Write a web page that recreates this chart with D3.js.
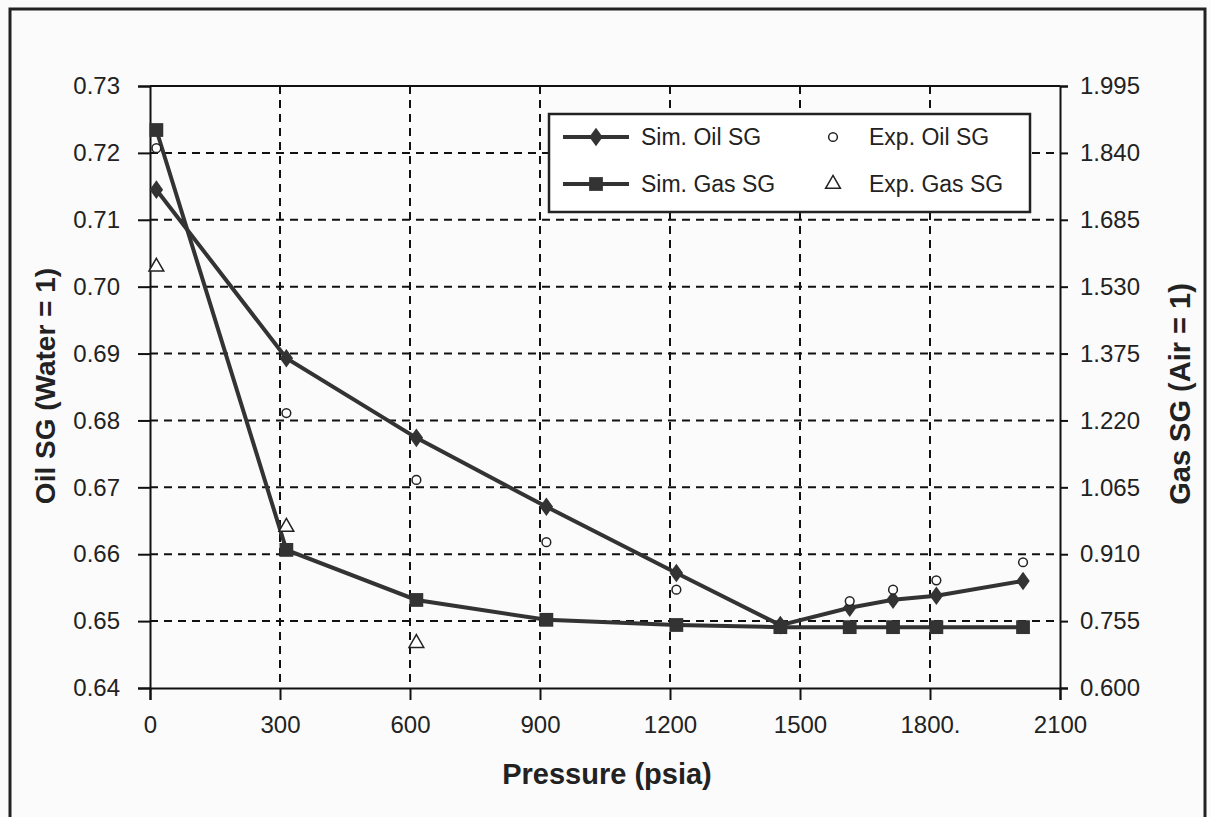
<!DOCTYPE html>
<html>
<head>
<meta charset="utf-8">
<script src="https://cdn.jsdelivr.net/npm/d3@7"></script>
<style>
  body { margin: 0; background: #fff; }
  svg text { font-family: "Liberation Sans", Arial, sans-serif; fill: #222; }
</style>
</head>
<body>
<div id="chart"></div>
<script>

// pressures (psia)
var simPressure = [14.7, 314.7, 614.7, 914.7, 1214.7, 1454.7, 1614.7, 1714.7, 1814.7, 2014.7];
var simOilSG    = [0.7145, 0.6893, 0.6774, 0.6671, 0.6572, 0.6494, 0.6520, 0.6532, 0.6538, 0.6560];
var simGasSG    = [1.893, 0.920, 0.804, 0.758, 0.746, 0.741, 0.741, 0.741, 0.741, 0.741];

var expOilPressure = [14.7, 314.7, 614.7, 914.7, 1214.7, 1614.7, 1714.7, 1814.7, 2014.7];
var expOilSG       = [0.7207, 0.6811, 0.6711, 0.6618, 0.6547, 0.6530, 0.6547, 0.6561, 0.6588];

var expGasPressure = [14.7, 314.7, 614.7];
var expGasSG       = [1.576, 0.973, 0.704];

var xTicks     = [0, 300, 600, 900, 1200, 1500, 1800, 2100];
var xTickText  = ['0', '300', '600', '900', '1200', '1500', '1800.', '2100'];
var oilTicks   = [0.64, 0.65, 0.66, 0.67, 0.68, 0.69, 0.70, 0.71, 0.72, 0.73];
var gasTicks   = [0.600, 0.755, 0.910, 1.065, 1.220, 1.375, 1.530, 1.685, 1.840, 1.995];

var legendItems = [
  { label: 'Sim. Oil SG',  kind: 'simOil' },
  { label: 'Sim. Gas SG',  kind: 'simGas' },
  { label: 'Exp. Oil SG',  kind: 'expOil' },
  { label: 'Exp. Gas SG',  kind: 'expGas' }
];

var W = 1211, H = 817;
var margin = {top: 86, right: 151, bottom: 129, left: 150},
    width = W - margin.left - margin.right,
    height = H - margin.top - margin.bottom;

var ink = '#333';

var svg = d3.select('#chart').append('svg')
    .attr('width', W).attr('height', H);

svg.append('rect').attr('width', W).attr('height', H).attr('fill', '#fbfbfb');

// outer frame of the scanned figure
svg.append('rect')
    .attr('x', 10).attr('y', 9).attr('width', 1195).attr('height', 830)
    .attr('fill', 'none').attr('stroke', '#222').attr('stroke-width', 3);

var g = svg.append('g').attr('transform', 'translate(' + margin.left + ',' + margin.top + ')');

var x = d3.scaleLinear().domain([0, 2100]).range([0, width]);
var yOil = d3.scaleLinear().domain([0.64, 0.73]).range([height, 0]);
var yGas = d3.scaleLinear().domain([0.600, 1.995]).range([height, 0]);

// grid
g.append('g').selectAll('line').data(xTicks.slice(1, -1)).enter().append('line')
    .attr('x1', function(d){ return x(d); }).attr('x2', function(d){ return x(d); })
    .attr('y1', 0).attr('y2', height)
    .attr('stroke', '#111').attr('stroke-width', 2).attr('stroke-dasharray', '8,6');

g.append('g').selectAll('line').data(oilTicks.slice(1, -1)).enter().append('line')
    .attr('x1', 0).attr('x2', width)
    .attr('y1', function(d){ return yOil(d); }).attr('y2', function(d){ return yOil(d); })
    .attr('stroke', '#111').attr('stroke-width', 2).attr('stroke-dasharray', '8,6');

// axes
var xAxis = d3.axisBottom(x).tickValues(xTicks).tickSize(12).tickPadding(16)
    .tickFormat(function(d, i){ return xTickText[i]; });
var leftAxis = d3.axisLeft(yOil).tickValues(oilTicks).tickSize(12).tickPadding(18)
    .tickFormat(d3.format('.2f'));
var rightAxis = d3.axisRight(yGas).tickValues(gasTicks).tickSize(8).tickPadding(12)
    .tickFormat(d3.format('.3f'));

var styleAxis = function(sel){
  sel.selectAll('path, line').attr('stroke', '#111').attr('stroke-width', 2);
  sel.selectAll('text').attr('font-size', 24).attr('fill', '#222');
};

g.append('g').attr('transform', 'translate(0,' + height + ')').call(xAxis).call(styleAxis);
g.append('g').call(leftAxis).call(styleAxis);
g.append('g').attr('transform', 'translate(' + width + ',0)').call(rightAxis).call(styleAxis);
g.append('line').attr('x1', 0).attr('x2', width).attr('y1', 0).attr('y2', 0)
    .attr('stroke', '#111').attr('stroke-width', 2);

// axis titles
svg.append('text').attr('x', 607).attr('y', 784).attr('text-anchor', 'middle')
    .attr('font-size', 29).attr('font-weight', 'bold').text('Pressure (psia)');
svg.append('text').attr('transform', 'translate(55,386) rotate(-90)').attr('text-anchor', 'middle')
    .attr('font-size', 28).attr('font-weight', 'bold').text('Oil SG (Water = 1)');
svg.append('text').attr('transform', 'translate(1190,394) rotate(-90)').attr('text-anchor', 'middle')
    .attr('font-size', 29).attr('font-weight', 'bold').text('Gas SG (Air = 1)');

// series
var oilData = simPressure.map(function(p, i){ return [p, simOilSG[i]]; });
var gasData = simPressure.map(function(p, i){ return [p, simGasSG[i]]; });

g.append('path').datum(gasData)
    .attr('fill', 'none').attr('stroke', ink).attr('stroke-width', 4)
    .attr('d', d3.line().x(function(d){ return x(d[0]); }).y(function(d){ return yGas(d[1]); }));
g.append('path').datum(oilData)
    .attr('fill', 'none').attr('stroke', ink).attr('stroke-width', 4)
    .attr('d', d3.line().x(function(d){ return x(d[0]); }).y(function(d){ return yOil(d[1]); }));

var diamond = d3.symbol().type(d3.symbolDiamond).size(100);
var square = d3.symbol().type(d3.symbolSquare).size(190);
var circle = d3.symbol().type(d3.symbolCircle).size(60);
var triangle = d3.symbol().type(d3.symbolTriangle).size(95);

g.selectAll('.simGas').data(gasData).enter().append('path').attr('class', 'simGas')
    .attr('transform', function(d){ return 'translate(' + x(d[0]) + ',' + yGas(d[1]) + ')'; })
    .attr('d', square).attr('fill', ink);
g.selectAll('.simOil').data(oilData).enter().append('path').attr('class', 'simOil')
    .attr('transform', function(d){ return 'translate(' + x(d[0]) + ',' + yOil(d[1]) + ') scale(1.25,1)'; })
    .attr('d', diamond).attr('fill', ink);

g.selectAll('.expOil').data(expOilPressure).enter().append('path').attr('class', 'expOil')
    .attr('transform', function(d, i){ return 'translate(' + x(d) + ',' + yOil(expOilSG[i]) + ')'; })
    .attr('d', circle).attr('fill', '#fff').attr('stroke', '#222').attr('stroke-width', 1.5);
g.selectAll('.expGas').data(expGasPressure).enter().append('path').attr('class', 'expGas')
    .attr('transform', function(d, i){ return 'translate(' + x(d) + ',' + yGas(expGasSG[i]) + ')'; })
    .attr('d', triangle).attr('fill', '#fff').attr('stroke', '#222').attr('stroke-width', 1.5);

// legend
var lg = svg.append('g').attr('transform', 'translate(549,114)');
lg.append('rect').attr('width', 481).attr('height', 98)
    .attr('fill', '#fff').attr('stroke', '#222').attr('stroke-width', 2.5);

var item = lg.selectAll('.item').data(legendItems).enter().append('g')
    .attr('transform', function(d, i){
      return 'translate(' + (i < 2 ? 0 : 268) + ',' + (i % 2 === 0 ? 23 : 70) + ')';
    });

item.each(function(d){
  var s = d3.select(this);
  if (d.kind === 'simOil' || d.kind === 'simGas') {
    s.append('line').attr('x1', 14).attr('x2', 80).attr('stroke', ink).attr('stroke-width', 4);
    s.append('path').attr('transform', 'translate(47,0)' + (d.kind === 'simOil' ? ' scale(1.25,1)' : ''))
      .attr('d', d.kind === 'simOil' ? diamond : square).attr('fill', ink);
    s.append('text').attr('x', 92).attr('dy', '0.35em').attr('font-size', 23).text(d.label);
  } else {
    s.append('path').attr('transform', 'translate(16,0)')
      .attr('d', d.kind === 'expOil' ? circle : triangle)
      .attr('fill', '#fff').attr('stroke', '#222').attr('stroke-width', 1.5);
    s.append('text').attr('x', 52).attr('dy', '0.35em').attr('font-size', 23).text(d.label);
  }
});

</script>
</body>
</html>
